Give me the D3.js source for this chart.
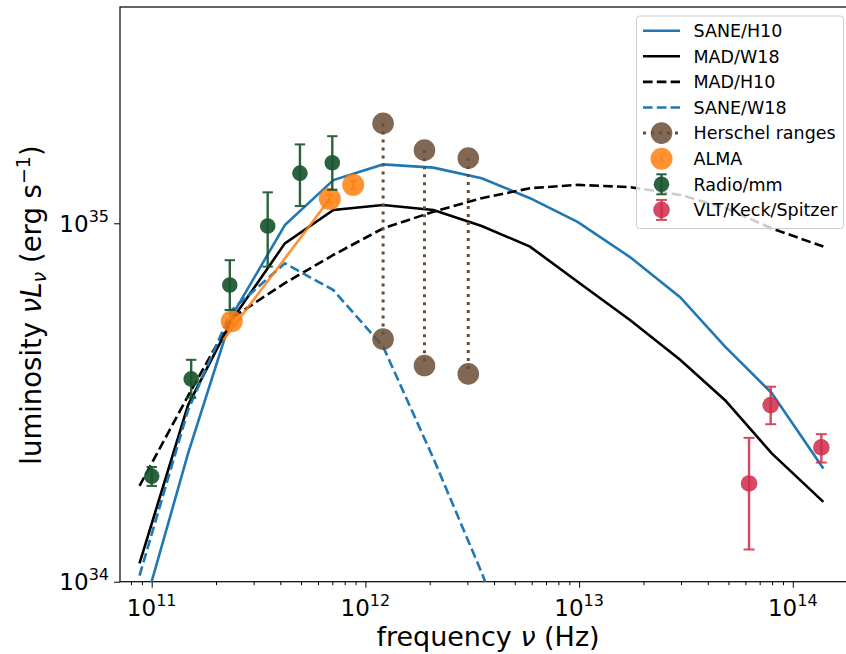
<!DOCTYPE html>
<html>
<head>
<meta charset="utf-8">
<script src="https://cdn.jsdelivr.net/npm/d3@7"></script>
<style>
    body { margin: 0; background: #fff; }
    svg text { font-family: "DejaVu Sans", sans-serif; fill: #000; }
</style>
</head>
<body>
<div id="sed-chart"></div>
<script>

// model curves, sampled on one frequency grid (Hz) -> nuL_nu (erg/s)
const modelFreq = [8.77e10, 1.48e11, 2.37e11, 4.2e11, 7.08e11, 1.21e12, 2.08e12, 3.5e12,
    5.89e12, 9.88e12, 1.73e13, 2.97e13, 4.82e13, 7.97e13, 1.39e14];
const saneH10 = [7.6e33, 2.28e34, 5.51e34, 9.89e34, 1.32e35, 1.46e35, 1.43e35, 1.336e35,
    1.175e35, 1.008e35, 8.05e34, 6.22e34, 4.53e34, 3.36e34, 2.07e34];
const madW18 = [1.125e34, 3.11e34, 5.37e34, 8.79e34, 1.089e35, 1.125e35, 1.089e35, 9.83e34,
    8.61e34, 6.86e34, 5.37e34, 4.16e34, 3.21e34, 2.28e34, 1.67e34];
const madH10 = [1.85e34, 3.30e34, 5.44e34, 6.81e34, 8.16e34, 9.68e34, 1.077e35, 1.175e35,
    1.253e35, 1.28e35, 1.262e35, 1.2e35, 1.104e35, 9.68e34, 8.61e34];
const saneW18 = [1.04e34, 3.01e34, 5.73e34, 7.73e34, 6.51e34, 4.53e34, 2.21e34, 1.06e34, 4.7e33];

// ALMA spectral slope segment
const almaSlopeFreq = [2.16e11, 6.82e11];
const almaSlopeLum = [4.72e34, 1.17e35];

// ALMA points
const almaFreq = [2.37e11, 6.82e11, 8.77e11];
const almaLum = [5.33e34, 1.17e35, 1.28e35];
const almaErr = [0.025, 0.025, 0.025];   // fractional

// Herschel ranges
const herschelFreq = [1.21e12, 1.89e12, 3.03e12];
const herschelHigh = [1.90e35, 1.60e35, 1.52e35];
const herschelLow = [4.75e34, 4.01e34, 3.80e34];

// Radio/mm
const radioFreq = [1.0e11, 1.53e11, 2.32e11, 3.49e11, 4.94e11, 7.0e11];
const radioLum = [1.97e34, 3.68e34, 6.73e34, 9.83e34, 1.38e35, 1.476e35];
const radioHigh = [2.09e34, 4.16e34, 7.89e34, 1.22e35, 1.66e35, 1.75e35];
const radioLow = [1.85e34, 3.26e34, 5.73e34, 7.57e34, 1.117e35, 1.24e35];

// VLT/Keck/Spitzer
const irFreq = [6.24e13, 7.88e13, 1.36e14];
const irLum = [1.88e34, 3.11e34, 2.37e34];
const irHigh = [2.52e34, 3.50e34, 2.58e34];
const irLow = [1.23e34, 2.75e34, 2.15e34];

const xTickExp = [11, 12, 13, 14];
const yTickExp = [34, 35];


class SedChart {

    constructor(_parentElement) {
        this.parentElement = _parentElement;
        this.initVis();
    }

    /*
     * SVG area, scales, axes
     */
    initVis() {
        let vis = this;

        vis.W = 846;
        vis.H = 654;
        vis.margin = { top: 7, right: -2, bottom: 72.3, left: 120 };
        vis.width = vis.W - vis.margin.left - vis.margin.right;
        vis.height = vis.H - vis.margin.top - vis.margin.bottom;

        vis.svgRoot = d3.select("#" + vis.parentElement).append("svg")
            .attr("width", vis.W)
            .attr("height", vis.H);

        vis.svg = vis.svgRoot.append("g")
            .attr("transform", "translate(" + vis.margin.left + "," + vis.margin.top + ")");

        vis.x = d3.scaleLog()
            .domain([Math.pow(10, 10.8517), Math.pow(10, 14.2583)])
            .range([0, vis.width]);

        vis.y = d3.scaleLog()
            .domain([1e34, Math.pow(10, 35.6035)])
            .range([vis.height, 0]);

        vis.svg.append("clipPath").attr("id", "plot-clip")
            .append("rect")
            .attr("width", vis.width)
            .attr("height", vis.height);

        vis.drawAxes();
        vis.updateVis();
    }

    drawAxes() {
        let vis = this;

        let minors = (scale) => {
            let [a, b] = scale.domain();
            let out = [];
            for (let e = 9; e <= 15; e++) {
                for (let k = 2; k <= 9; k++) {
                    let v = k * Math.pow(10, e);
                    if (v > a && v < b) out.push(v);
                }
            }
            return out;
        };

        let xMajor = xTickExp.map(e => Math.pow(10, e));
        let yMajor = yTickExp.map(e => Math.pow(10, e));

        let xAxisG = vis.svg.append("g").attr("transform", "translate(0," + vis.height + ")");
        xAxisG.append("g").call(d3.axisBottom(vis.x).tickValues(xMajor).tickSize(6).tickSizeOuter(0).tickFormat(""));
        xAxisG.append("g").call(d3.axisBottom(vis.x).tickValues(minors(vis.x)).tickSize(3.5).tickSizeOuter(0).tickFormat(""));

        let yAxisG = vis.svg.append("g");
        yAxisG.append("g").call(d3.axisLeft(vis.y).tickValues(yMajor).tickSize(6).tickSizeOuter(0).tickFormat(""));
        yAxisG.append("g").call(d3.axisLeft(vis.y).tickValues(minors(vis.y)).tickSize(3.5).tickSizeOuter(0).tickFormat(""));

        vis.svg.selectAll(".domain").remove();
        vis.svg.selectAll(".tick line").attr("stroke", "#000").attr("stroke-width", 1);

        // tick labels as 10^n
        xTickExp.forEach(e => {
            let t = vis.svg.append("text")
                .attr("x", vis.x(Math.pow(10, e)))
                .attr("y", vis.height + 34.5)
                .attr("text-anchor", "middle")
                .style("font-size", "23px");
            t.append("tspan").text("10");
            t.append("tspan").attr("dy", -10).style("font-size", "16px").text(e);
        });
        yTickExp.forEach(e => {
            let t = vis.svg.append("text")
                .attr("x", -11)
                .attr("y", vis.y(Math.pow(10, e)) + 8.5)
                .attr("text-anchor", "end")
                .style("font-size", "23px");
            t.append("tspan").text("10");
            t.append("tspan").attr("dy", -10).style("font-size", "16px").text(e);
        });

        // frame
        vis.svg.append("rect")
            .attr("width", vis.width)
            .attr("height", vis.height)
            .attr("fill", "none")
            .attr("stroke", "#000")
            .attr("stroke-width", 1.2);

        // axis labels
        let xl = vis.svgRoot.append("text")
            .attr("x", 488)
            .attr("y", 646)
            .attr("text-anchor", "middle")
            .style("font-size", "27px");
        xl.append("tspan").text("frequency ");
        xl.append("tspan").style("font-style", "italic").text("ν");
        xl.append("tspan").text(" (Hz)");

        let yl = vis.svgRoot.append("text")
            .attr("transform", "translate(41,305) rotate(-90)")
            .attr("text-anchor", "middle")
            .style("font-size", "27.5px");
        yl.append("tspan").text("luminosity ");
        yl.append("tspan").style("font-style", "italic").text("νL");
        yl.append("tspan").style("font-style", "italic").style("font-size", "19px").attr("dy", 5).text("ν");
        yl.append("tspan").attr("dy", -5).text(" (erg s");
        yl.append("tspan").style("font-size", "19px").attr("dy", -11).text("−1");
        yl.append("tspan").attr("dy", 11).text(")");
    }

    /*
     * marks
     */
    updateVis() {
        let vis = this;

        let line = d3.line()
            .x(d => vis.x(d[0]))
            .y(d => vis.y(d[1]));

        let zip = (f, v) => v.map((l, i) => [f[i], l]);

        let plot = vis.svg.append("g").attr("clip-path", "url(#plot-clip)");

        let models = [
            { data: saneH10, color: "#1f77b4", dash: null },
            { data: madW18, color: "#000000", dash: null },
            { data: madH10, color: "#000000", dash: "9.6,4.2" },
            { data: saneW18, color: "#1f77b4", dash: "9.6,4.2" }
        ];

        models.forEach(m => {
            plot.append("path")
                .datum(zip(modelFreq, m.data))
                .attr("d", line)
                .attr("fill", "none")
                .attr("stroke", m.color)
                .attr("stroke-width", 2.6)
                .attr("stroke-dasharray", m.dash);
        });

        // ALMA slope
        plot.append("path")
            .datum(zip(almaSlopeFreq, almaSlopeLum))
            .attr("d", line)
            .attr("fill", "none")
            .attr("stroke", "#ff7f0e")
            .attr("stroke-width", 2.6)
            .attr("opacity", 0.85);

        // Herschel ranges
        let brown = "#6b4d36";
        herschelFreq.forEach((f, i) => {
            plot.append("line")
                .attr("x1", vis.x(f)).attr("x2", vis.x(f))
                .attr("y1", vis.y(herschelHigh[i])).attr("y2", vis.y(herschelLow[i]))
                .attr("stroke", brown)
                .attr("stroke-width", 3)
                .attr("stroke-dasharray", "3,5");
            [herschelHigh[i], herschelLow[i]].forEach(v => {
                plot.append("circle")
                    .attr("cx", vis.x(f)).attr("cy", vis.y(v))
                    .attr("r", 10.8)
                    .attr("fill", brown)
                    .attr("fill-opacity", 0.85);
            });
        });

        // ALMA points
        let orange = "#ff7f0e";
        almaFreq.forEach((f, i) => {
            vis.errorbar(plot, vis.x(f), vis.y(almaLum[i]),
                vis.y(almaLum[i] * (1 + almaErr[i])), vis.y(almaLum[i] * (1 - almaErr[i])),
                orange, 11, 3.5, 0.85);
        });

        // Radio/mm
        let green = "#1a552d";
        radioFreq.forEach((f, i) => {
            vis.errorbar(plot, vis.x(f), vis.y(radioLum[i]), vis.y(radioHigh[i]), vis.y(radioLow[i]),
                green, 7.8, 5.2, 0.92);
        });

        // VLT/Keck/Spitzer
        let red = "#d02a48";
        irFreq.forEach((f, i) => {
            vis.errorbar(plot, vis.x(f), vis.y(irLum[i]), vis.y(irHigh[i]), vis.y(irLow[i]),
                red, 8.3, 5.5, 0.85);
        });

        vis.drawLegend(brown, orange, green, red);
    }

    errorbar(g, cx, cy, yTop, yBot, color, r, cap, alpha) {
        let eb = g.append("g").attr("opacity", alpha);
        eb.append("line")
            .attr("x1", cx).attr("x2", cx).attr("y1", yTop).attr("y2", yBot)
            .attr("stroke", color).attr("stroke-width", 2.4);
        [yTop, yBot].forEach(yy => {
            eb.append("line")
                .attr("x1", cx - cap).attr("x2", cx + cap).attr("y1", yy).attr("y2", yy)
                .attr("stroke", color).attr("stroke-width", 2);
        });
        g.append("circle")
            .attr("cx", cx).attr("cy", cy).attr("r", r)
            .attr("fill", color).attr("fill-opacity", alpha);
    }

    drawLegend(brown, orange, green, red) {
        let vis = this;

        let lg = vis.svgRoot.append("g");
        lg.append("rect")
            .attr("x", 636.5).attr("y", 16)
            .attr("width", 207).attr("height", 212.5)
            .attr("rx", 3)
            .attr("fill", "#fff").attr("fill-opacity", 0.8)
            .attr("stroke", "#cccccc").attr("stroke-width", 1);

        let labels = ["SANE/H10", "MAD/W18", "MAD/H10", "SANE/W18",
            "Herschel ranges", "ALMA", "Radio/mm", "VLT/Keck/Spitzer"];
        let rowY = i => 30.7 + i * 25.6;
        let hx0 = 643, hx1 = 680, hc = 661.5;

        let handles = [
            { color: "#1f77b4", dash: null },
            { color: "#000", dash: null },
            { color: "#000", dash: "9.6,4.2" },
            { color: "#1f77b4", dash: "9.6,4.2" }
        ];
        handles.forEach((h, i) => {
            lg.append("line")
                .attr("x1", hx0).attr("x2", hx1).attr("y1", rowY(i)).attr("y2", rowY(i))
                .attr("stroke", h.color).attr("stroke-width", 2.6)
                .attr("stroke-dasharray", h.dash);
        });

        // Herschel handle
        lg.append("line")
            .attr("x1", hx0).attr("x2", hx1).attr("y1", rowY(4)).attr("y2", rowY(4))
            .attr("stroke", brown).attr("stroke-width", 3).attr("stroke-dasharray", "3,5");
        lg.append("circle").attr("cx", hc).attr("cy", rowY(4)).attr("r", 10.8)
            .attr("fill", brown).attr("fill-opacity", 0.85);

        // ALMA handle
        vis.errorbar(lg, hc, rowY(5), rowY(5) - 3, rowY(5) + 3, orange, 11, 0, 0.85);

        // Radio and IR handles
        vis.errorbar(lg, hc, rowY(6), rowY(6) - 10, rowY(6) + 10, green, 7.8, 5.2, 0.92);
        vis.errorbar(lg, hc, rowY(7), rowY(7) - 10, rowY(7) + 10, red, 8.3, 5.5, 0.85);

        labels.forEach((l, i) => {
            lg.append("text")
                .attr("x", 693.5)
                .attr("y", rowY(i) + 6.3)
                .style("font-size", "17.5px")
                .text(l);
        });
    }
}

new SedChart("sed-chart");

</script>
</body>
</html>
